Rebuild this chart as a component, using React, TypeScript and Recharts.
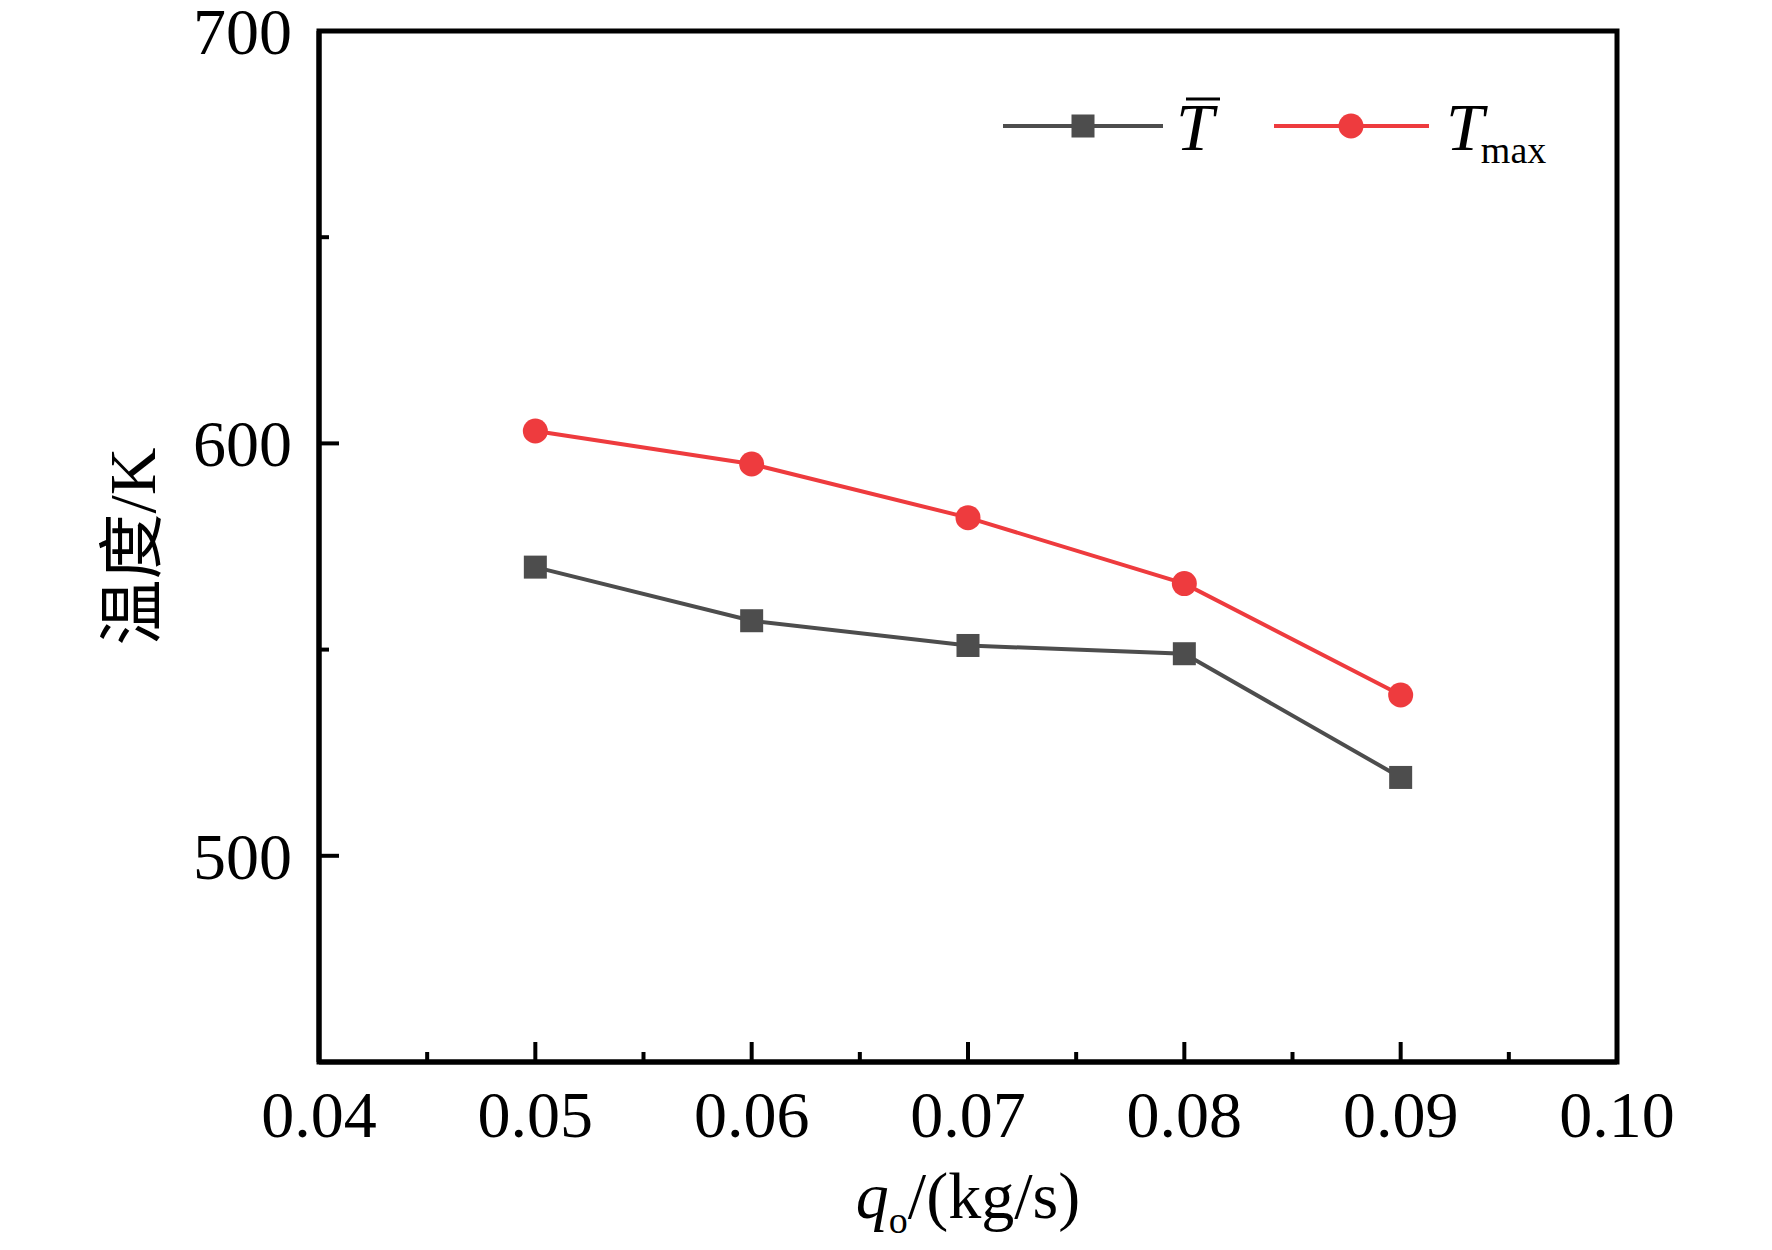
import { LineChart, Line, XAxis, YAxis, ReferenceArea, Legend } from 'recharts';

const xValues = [0.05, 0.06, 0.07, 0.08, 0.09];
const tbarValues = [570, 557, 551, 549, 519];
const tmaxValues = [603, 595, 582, 566, 539];

const xTicks = [0.04, 0.045, 0.05, 0.055, 0.06, 0.065, 0.07, 0.075, 0.08, 0.085, 0.09, 0.095, 0.1];
const xTickLabels = ['0.04', '0.05', '0.06', '0.07', '0.08', '0.09', '0.10'];
const yTicks = [500, 550, 600, 650, 700];
const yTickLabels = ['500', '600', '700'];

const data = xValues.map((x, i) => ({ x, tbar: tbarValues[i], tmax: tmaxValues[i] }));

const FONT = "'Liberation Serif', 'Times New Roman', 'Noto Sans CJK SC', serif";
const GRAY = '#4d4d4d';
const RED = '#ee3b3e';

const XTick = (props: any) => {
  const { x, y, payload } = props;
  const i = xTicks.indexOf(payload.value);
  const major = i % 2 === 0;
  return (
    <g>
      <line x1={x} x2={x} y1={y} y2={y - (major ? 20 : 10)} stroke="#000" strokeWidth={4} />
      {major && (
        <text x={x} y={y + 75} textAnchor="middle" fontSize={66} fontFamily={FONT} fill="#000">
          {xTickLabels[i / 2]}
        </text>
      )}
    </g>
  );
};

const YTick = (props: any) => {
  const { x, y, payload } = props;
  const i = yTicks.indexOf(payload.value);
  const major = i % 2 === 0;
  return (
    <g>
      <line x1={x} x2={x + (major ? 20 : 10)} y1={y} y2={y} stroke="#000" strokeWidth={4} />
      {major && (
        <text x={x - 27} y={y + 23} textAnchor="end" fontSize={66} fontFamily={FONT} fill="#000">
          {yTickLabels[i / 2]}
        </text>
      )}
    </g>
  );
};

const YLabel = (props: any) => {
  const vb = props.viewBox || { x: 0, y: 31, width: 319, height: 1031 };
  const cx = 132;
  const cy = vb.y + vb.height / 2;
  return (
    <text
      x={cx}
      y={cy}
      transform={`rotate(-90, ${cx}, ${cy})`}
      textAnchor="middle"
      dominantBaseline="central"
      fontSize={66}
      fontFamily={FONT}
      fill="#000"
    >
      温度/K
    </text>
  );
};

const XLabel = (props: any) => {
  const vb = props.viewBox || { x: 319, y: 1062, width: 1298, height: 188 };
  const cx = vb.x + vb.width / 2;
  return (
    <text x={cx} y={1218} textAnchor="middle" fontSize={66} fontFamily={FONT} fill="#000">
      <tspan fontStyle="italic">q</tspan>
      <tspan fontSize={38} dy={15}>o</tspan>
      <tspan dy={-15}>/(kg/s)</tspan>
    </text>
  );
};

const SquareDot = (p: any) => (
  <rect key={`sq-${p.index}`} x={p.cx - 11.5} y={p.cy - 11.5} width={23} height={23} fill={GRAY} />
);

const CircleDot = (p: any) => (
  <circle key={`ci-${p.index}`} cx={p.cx} cy={p.cy} r={12.5} fill={RED} />
);

const renderLegend = () => (
  <svg width={600} height={120} style={{ display: 'block' }}>
    <line x1={13} x2={173} y1={56} y2={56} stroke={GRAY} strokeWidth={4} />
    <rect x={81.5} y={44.5} width={23} height={23} fill={GRAY} />
    <text x={186} y={80} fontSize={68} fontStyle="italic" fontFamily={FONT} fill="#000">T</text>
    <line x1={196} x2={230} y1={29} y2={29} stroke="#000" strokeWidth={3} />
    <line x1={284} x2={439} y1={56} y2={56} stroke={RED} strokeWidth={4} />
    <circle cx={361} cy={56} r={12.5} fill={RED} />
    <text x={456} y={80} fontSize={68} fontFamily={FONT} fill="#000">
      <tspan fontStyle="italic">T</tspan>
      <tspan fontSize={38} dy={13} dx={-3}>max</tspan>
    </text>
  </svg>
);

export default function App() {
  return (
    <div style={{ position: 'absolute', left: 0, top: 0, width: 1772, height: 1250, background: '#fff' }}>
      <LineChart width={1772} height={1250} data={data} margin={{ top: 31, right: 155, left: 0, bottom: 0 }}>
        <XAxis
          dataKey="x"
          type="number"
          domain={[0.04, 0.1]}
          ticks={xTicks}
          interval={0}
          allowDataOverflow
          height={188}
          tickSize={0}
          tickMargin={0}
          tickLine={false}
          axisLine={{ stroke: '#000', strokeWidth: 5 }}
          tick={<XTick />}
          label={<XLabel />}
        />
        <YAxis
          type="number"
          domain={[450, 700]}
          ticks={yTicks}
          interval={0}
          allowDataOverflow
          width={319}
          tickSize={0}
          tickMargin={0}
          tickLine={false}
          axisLine={{ stroke: '#000', strokeWidth: 5 }}
          tick={<YTick />}
          label={<YLabel />}
        />
        <ReferenceArea x1={0.04} x2={0.1} y1={450} y2={700} fill="none" stroke="#000" strokeWidth={5} />
        <Line
          type="linear"
          dataKey="tbar"
          stroke={GRAY}
          strokeWidth={4}
          dot={SquareDot}
          activeDot={false}
          isAnimationActive={false}
        />
        <Line
          type="linear"
          dataKey="tmax"
          stroke={RED}
          strokeWidth={4}
          dot={CircleDot}
          activeDot={false}
          isAnimationActive={false}
        />
        <Legend
          layout="horizontal"
          verticalAlign="middle"
          align="center"
          content={renderLegend}
          wrapperStyle={{ left: 990, top: 70, width: 600, height: 120 }}
        />
      </LineChart>
    </div>
  );
}
